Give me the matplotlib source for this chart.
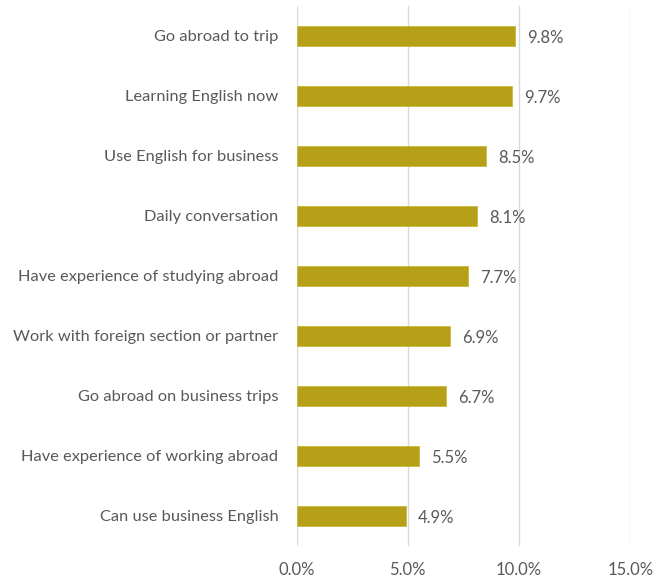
import numpy as np
import matplotlib.pyplot as plt

# data
categories = ['Go abroad to trip', 'Learning English now', 'Use English for business',
              'Daily conversation', 'Have experience of studying abroad',
              'Work with foreign section or partner', 'Go abroad on business trips',
              'Have experience of working abroad', 'Can use business English']
values = [9.8, 9.7, 8.5, 8.1, 7.7, 6.9, 6.7, 5.5, 4.9]
xticks = [0, 5, 10, 15]
xtick_labels = ['0.0%', '5.0%', '10.0%', '15.0%']

plt.rcParams['font.family'] = ['Lato', 'DejaVu Sans']
grey = '#595959'

fig = plt.figure(figsize=(6.55, 5.8), dpi=100)
ax = fig.add_axes([0.4527, 0.059, 0.5095, 0.931])

y = np.arange(len(categories))
ax.barh(y, values, height=0.34, color='#B5A017', edgecolor='#C9B83A', linewidth=0.6, zorder=3)
for yi, v in zip(y, values):
    ax.text(v + 0.55, yi + 0.03, f'{v:.1f}%', va='center', ha='left', fontsize=12, color=grey)

ax.set_ylim(len(categories) - 0.5, -0.5)
ax.set_xlim(0, 15)
ax.set_yticks(y)
ax.set_yticklabels(categories, fontsize=11.8, color=grey)
ax.set_xticks(xticks)
ax.set_xticklabels(xtick_labels, fontsize=12, color=grey)
ax.tick_params(axis='y', length=0, pad=13)
ax.tick_params(axis='x', length=0, pad=12)
ax.grid(axis='x', color='#D9D9D9', linewidth=1, zorder=0)
for s in ax.spines.values():
    s.set_visible(False)

fig.savefig('out.png', dpi=100)
